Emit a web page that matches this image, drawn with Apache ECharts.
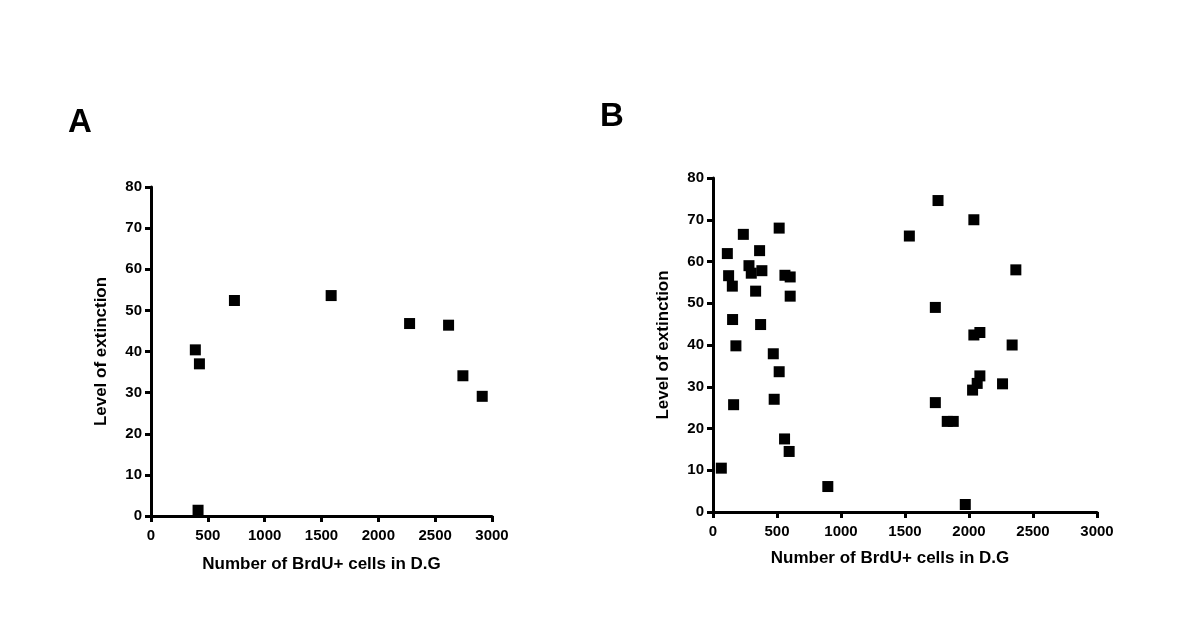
<!DOCTYPE html>
<html>
<head>
  <meta charset="UTF-8">
  <title>BrdU vs extinction</title>
  <script src="https://cdn.jsdelivr.net/npm/echarts@6/dist/echarts.min.js"></script>
  <style>
    html, body { margin: 0; padding: 0; background: #fff; }
    #chart { width: 1200px; height: 632px; }
  </style>
</head>
<body>
  <div id="chart"></div>
  <script>
    // panel A: BrdU+ cell count vs level of extinction
    const cellsA = [390, 426, 414, 734, 1585, 2275, 2618, 2744, 2914];
    const extinctionA = [40.4, 37.0, 1.4, 52.4, 53.6, 46.8, 46.4, 34.1, 29.1];

    // panel B
    const cellsB = [65, 112, 122, 151, 153, 179, 161, 237, 281, 299, 364, 382, 333, 372,
      517, 562, 603, 603, 471, 517, 478, 559, 595, 897,
      1534, 1758, 1737, 1737, 1830, 1877, 2038, 2038, 2085, 2085, 2064, 2028, 2262, 2337, 2366, 1971];
    const extinctionB = [10.5, 61.9, 56.6, 54.1, 46.1, 39.8, 25.7, 66.5, 59.0, 57.2, 62.6, 57.8, 52.9, 44.9,
      68.0, 56.7, 56.3, 51.7, 37.9, 33.6, 27.0, 17.5, 14.5, 6.1,
      66.1, 74.6, 49.0, 26.2, 21.7, 21.7, 70.0, 42.4, 43.0, 32.6, 30.8, 29.2, 30.7, 40.0, 58.0, 1.8];

    const xTicks = [0, 500, 1000, 1500, 2000, 2500, 3000];
    const yTicks = [0, 10, 20, 30, 40, 50, 60, 70, 80];
    const xTitle = 'Number of BrdU+ cells in D.G';
    const yTitle = 'Level of extinction';

    const font = 'Arial, "Liberation Sans", sans-serif';
    const lineStyle = { color: '#000', width: 3 };

    function xAxisFor(gridIndex, nameGap, namePad) {
      return {
        gridIndex: gridIndex,
        type: 'value',
        min: xTicks[0],
        max: xTicks[xTicks.length - 1],
        interval: 500,
        name: xTitle,
        nameLocation: 'middle',
        nameGap: nameGap,
        nameTextStyle: {
          fontFamily: font, fontSize: 17, fontWeight: 'bold', color: '#000',
          padding: namePad
        },
        axisLine: { show: true, onZero: false, lineStyle: lineStyle },
        axisTick: { show: true, inside: false, length: 6, lineStyle: lineStyle },
        axisLabel: {
          margin: 12, fontFamily: font, fontSize: 15, fontWeight: 'bold', color: '#000',
          formatter: v => String(v)
        },
        splitLine: { show: false }
      };
    }

    function yAxisFor(gridIndex) {
      return {
        gridIndex: gridIndex,
        type: 'value',
        min: yTicks[0],
        max: yTicks[yTicks.length - 1],
        interval: 10,
        name: yTitle,
        nameLocation: 'middle',
        nameGap: 41,
        nameTextStyle: { fontFamily: font, fontSize: 17, fontWeight: 'bold', color: '#000' },
        axisLine: { show: true, onZero: false, lineStyle: lineStyle },
        axisTick: { show: true, inside: false, length: 6, lineStyle: lineStyle },
        axisLabel: {
          margin: 9, fontFamily: font, fontSize: 15, fontWeight: 'bold', color: '#000',
          formatter: v => String(v)
        },
        splitLine: { show: false }
      };
    }

    function pairs(xs, ys) {
      return xs.map((x, i) => [x, ys[i]]);
    }

    const chart = echarts.init(document.getElementById('chart'), null, { renderer: 'canvas' });

    const option = {
      backgroundColor: '#fff',
      animation: false,
      graphic: [
        { type: 'text', left: 68, top: 106, style: { text: 'A', font: '900 33px ' + font, fill: '#000' } },
        { type: 'text', left: 600, top: 100, style: { text: 'B', font: '900 33px ' + font, fill: '#000' } }
      ],
      grid: [
        { left: 151, top: 187, width: 341, height: 329 },
        { left: 713, top: 178, width: 384, height: 334 }
      ],
      xAxis: [xAxisFor(0, 40, 0), xAxisFor(1, 38, [0, 30, 0, 0])],
      yAxis: [yAxisFor(0), yAxisFor(1)],
      series: [
        {
          type: 'scatter', xAxisIndex: 0, yAxisIndex: 0,
          symbol: 'rect', symbolSize: 11,
          itemStyle: { color: '#000', opacity: 1 },
          data: pairs(cellsA, extinctionA)
        },
        {
          type: 'scatter', xAxisIndex: 1, yAxisIndex: 1,
          symbol: 'rect', symbolSize: 11,
          itemStyle: { color: '#000', opacity: 1 },
          data: pairs(cellsB, extinctionB)
        }
      ]
    };

    chart.setOption(option);
  </script>
</body>
</html>
